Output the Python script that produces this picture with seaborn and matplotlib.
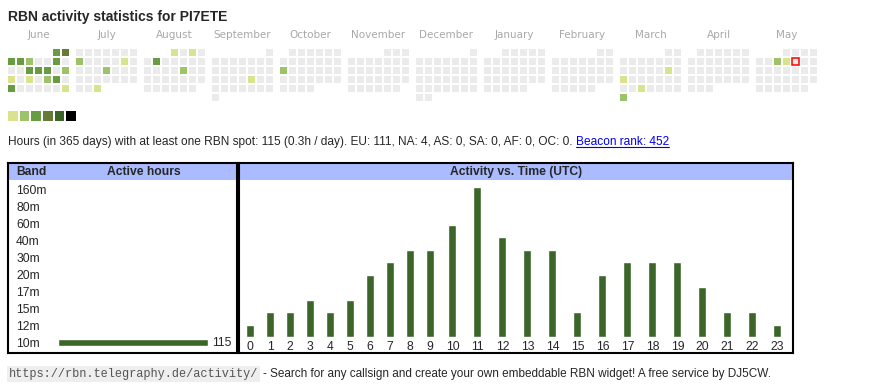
import datetime as dt
import numpy as np
import matplotlib
matplotlib.use("Agg")
import matplotlib.pyplot as plt
from matplotlib.colors import ListedColormap
from matplotlib.patches import Rectangle
from matplotlib.lines import Line2D
import seaborn as sns

# ==========================================
# DATA
# ==========================================
callsign = "PI7ETE"
months = ["June", "July", "August", "September", "October", "November",
          "December", "January", "February", "March", "April", "May"]
first_month = dt.date(2024, 6, 1)
today = "2025-05-09"

# days with RBN activity and their intensity level (1..6)
active_days = ["2024-06-01", "2024-06-02", "2024-06-03", "2024-06-04", "2024-06-05",
               "2024-06-08", "2024-06-12", "2024-06-13", "2024-06-14", "2024-06-16",
               "2024-06-17", "2024-06-19", "2024-06-21", "2024-06-22", "2024-06-24",
               "2024-06-30", "2024-07-08", "2024-07-13", "2024-07-18", "2024-07-31",
               "2024-08-01", "2024-08-03", "2024-08-06", "2024-08-16", "2024-09-20",
               "2024-10-14", "2025-03-15", "2025-03-17", "2025-03-26", "2025-03-31",
               "2025-05-07", "2025-05-08"]
active_levels = [3, 4, 3, 3, 2,
                 3, 3, 3, 3, 2,
                 1, 1, 2, 3, 3,
                 1, 2, 1, 2, 1,
                 1, 1, 3, 2, 1,
                 2, 1, 1, 1, 2,
                 2, 1]
legend_levels = [1, 2, 3, 4, 5, 6]

bands = ["160m", "80m", "60m", "40m", "30m", "20m", "17m", "15m", "12m", "10m"]
band_hours = [0, 0, 0, 0, 0, 0, 0, 0, 0, 115]

utc_hours = list(range(24))
hour_counts = [1, 2, 2, 3, 2, 3, 5, 6, 7, 7, 9, 12, 8, 7, 7, 2, 5, 6, 6, 6, 4, 2, 2, 1]

stats_text = ("Hours (in 365 days) with at least one RBN spot: 115 (0.3h / day). "
              "EU: 111, NA: 4, AS: 0, SA: 0, AF: 0, OC: 0. ")
link_text = "Beacon rank: 452"
url_text = "https://rbn.telegraphy.de/activity/"
footer_text = "- Search for any callsign and create your own embeddable RBN widget! A free service by DJ5CW."

# ==========================================
# STYLE
# ==========================================
sns.set_style("white")
plt.rcParams['font.family'] = ['Liberation Sans', 'DejaVu Sans']

empty_color = "#ebebeb"
level_colors = ["#d9e38d", "#9dc36a", "#679c43", "#657a37", "#3b6428", "#000000"]
cmap = ListedColormap([empty_color] + level_colors)
bar_color = "#3c6629"
header_color = "#aabbff"
FS = 8.7

W, H = 870, 390


def px(x, y, w, h):
    # pixel box (top-left origin) -> figure fraction rect
    return [x / W, 1 - (y + h) / H, w / W, h / H]


fig = plt.figure(figsize=(W / 100, H / 100), dpi=100)

fig.text(8 / W, 1 - 17 / H, f"RBN activity statistics for {callsign}",
         fontsize=10, fontweight='bold', va='center')

# ==========================================
# 1. CALENDAR (one small heatmap per month)
# ==========================================
level_by_day = dict(zip(active_days, active_levels))
for m, name in enumerate(months):
    yy = first_month.year + (first_month.month - 1 + m) // 12
    mm = (first_month.month - 1 + m) % 12 + 1
    d = dt.date(yy, mm, 1)
    grid = np.full((6, 7), np.nan)
    row = 0
    today_cell = None
    while d.month == mm:
        grid[row, d.weekday()] = level_by_day.get(d.isoformat(), 0)
        if d.isoformat() == today:
            today_cell = (d.weekday(), row)
        if d.weekday() == 6:
            row += 1
        d += dt.timedelta(days=1)

    ax = fig.add_axes(px(7 + 68 * m, 48, 63, 54))
    sns.heatmap(grid, ax=ax, cmap=cmap, vmin=-0.5, vmax=6.5, cbar=False,
                linewidths=1.44, linecolor="white",
                xticklabels=False, yticklabels=False)
    ax.text(3.5, -1.45, name, ha='center', va='center', fontsize=7.5,
            color="#a8a8a8", family='DejaVu Sans')
    if today_cell is not None:
        c, r = today_cell
        ax.add_patch(Rectangle((c + 0.12, r + 0.12), 0.76, 0.76, fill=False,
                               edgecolor="red", lw=1.1, clip_on=False))

# legend squares
axl = fig.add_axes(px(7, 110, 70, 11.5))
sns.heatmap(np.array([legend_levels]), ax=axl, cmap=cmap, vmin=-0.5, vmax=6.5,
            cbar=False, linewidths=1.4, linecolor="white",
            xticklabels=False, yticklabels=False)

# stats line + link
stats = fig.text(8 / W, 1 - 142 / H, stats_text, fontsize=8.6, va='center')
link = fig.text(0, 0, link_text, fontsize=8.6, color="#0000ee")

# ==========================================
# 2. TABLES
# ==========================================
box_l = fig.add_axes(px(8, 163, 229, 190))
box_r = fig.add_axes(px(239, 163, 554, 190))
for bx in [box_l, box_r]:
    bx.set_xticks([])
    bx.set_yticks([])
    for s in bx.spines.values():
        s.set_visible(True)
        s.set_linewidth(1.5)
        s.set_color("black")
    bx.add_patch(Rectangle((0, 1 - 17 / 190), 1, 17 / 190,
                           transform=bx.transAxes, color=header_color, lw=0))

hy = 1 - 9 / 190
box_l.text(8 / 229, hy, "Band", fontsize=FS, fontweight='bold', va='center',
           transform=box_l.transAxes)
box_l.text(136 / 229, hy, "Active hours", fontsize=FS, fontweight='bold',
           va='center', ha='center', transform=box_l.transAxes)
box_r.text(0.5, hy, "Activity vs. Time (UTC)", fontsize=FS, fontweight='bold',
           va='center', ha='center', transform=box_r.transAxes)

# band bars
axb = fig.add_axes(px(58, 181, 150, 170))
axb.patch.set_visible(False)
sns.barplot(x=band_hours, y=bands, orient='h', color=bar_color, width=0.4,
            saturation=1, ax=axb)
axb.set_xlim(0, max(band_hours))
axb.bar_label(axb.containers[0], labels=[str(v) if v else "" for v in band_hours],
              padding=3, fontsize=FS)
axb.set_xticks([])
axb.set_xlabel("")
axb.set_ylabel("")
axb.tick_params(axis='y', length=0, pad=30.2, labelsize=FS)
for t in axb.get_yticklabels():
    t.set_ha('left')
sns.despine(ax=axb, left=True, bottom=True)

# hourly bars: html table columns are as wide as their label
col_w = np.array([20 if h < 10 else 25 for h in utc_hours])
centers = np.cumsum(col_w) - col_w / 2
axh = fig.add_axes(px(240, 181, 551, 156))
axh.patch.set_visible(False)
sns.barplot(x=centers, y=hour_counts, native_scale=True, width=0.4,
            color=bar_color, saturation=1, ax=axh)
axh.set_xlim(0, col_w.sum() + 1)
axh.set_ylim(0, max(hour_counts) * 1.04)
axh.set_xticks(centers, [str(h) for h in utc_hours])
axh.set_yticks([])
axh.set_xlabel("")
axh.set_ylabel("")
axh.tick_params(axis='x', length=0, pad=3, labelsize=FS)
sns.despine(ax=axh, left=True, bottom=True)

# ==========================================
# 3. FOOTER
# ==========================================
url = fig.text(9 / W, 1 - 374 / H, url_text, fontsize=8.6, family='Liberation Mono',
               color="#555555", va='center',
               bbox=dict(facecolor="#eeeeee", edgecolor="none", pad=1.2))
fig.canvas.draw()
r = fig.canvas.get_renderer()
ub = url.get_window_extent(r)
fig.text((ub.x1 + 5) / W, 1 - 374 / H, footer_text, fontsize=8.5, va='center')

sb = stats.get_window_extent(r)
link.set_position((sb.x1 / W, sb.y0 / H))
link.set_va('bottom')
fig.canvas.draw()
lb = link.get_window_extent(r)
fig.add_artist(Line2D([lb.x0 / W, lb.x1 / W], [(lb.y0 + 1.5) / H] * 2,
                      color="#0000ee", lw=0.8))

fig.savefig("out.png", dpi=100)
